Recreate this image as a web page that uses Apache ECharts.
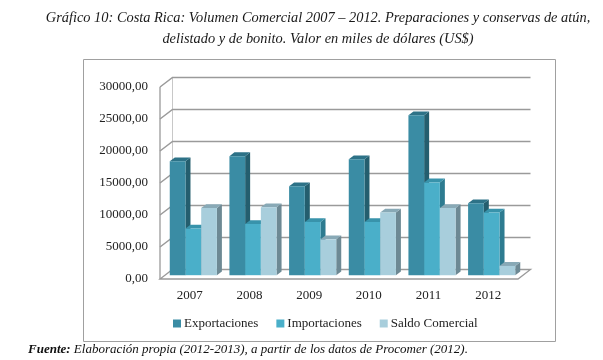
<!DOCTYPE html>
<html><head><meta charset="utf-8">
<script src="https://cdn.jsdelivr.net/npm/echarts@6/dist/echarts.min.js"></script>
<style>html,body{margin:0;padding:0;background:#fff}#c{width:603px;height:360px}</style>
</head><body><div id="c"></div>
<script>
var years = ['2007','2008','2009','2010','2011','2012'];
var exportaciones = [17800, 18600, 13900, 18100, 25000, 11250];
var importaciones = [7300, 8000, 8300, 8300, 14500, 9800];
var saldo = [10500, 10600, 5600, 9800, 10500, 1450];
var yTicks = [0, 5000, 10000, 15000, 20000, 25000, 30000];
var seriesNames = ['Exportaciones', 'Importaciones', 'Saldo Comercial'];

var DX = 12.5, DY = -9.5, D0 = 0.4, D1 = 0.8;
var palette = [
  {front:'#3A8CA4', side:'#245E6E', top:'#2D7287'},
  {front:'#4AAFC9', side:'#2D7B90', top:'#3893AB'},
  {front:'#A8CEDC', side:'#6D8994', top:'#88A9B6'}
];
var serif = '"Liberation Serif", "Times New Roman", serif';

function barRender(sIdx) {
  return function (params, api) {
    var ci = api.value(0), v = api.value(1);
    var p = api.coord([ci, v]), p0 = api.coord([ci, 0]);
    var band = api.size([1, 0])[0];
    var gw = band * 0.79, bw = gw / 3;
    var x0 = p[0] - gw / 2 + sIdx * bw + D0 * DX - 1.5;
    var x1 = x0 + bw;
    var yt = p[1] + D0 * DY, yb = p0[1] + D0 * DY;
    var ddx = (D1 - D0) * DX, ddy = (D1 - D0) * DY;
    var c = palette[sIdx];
    return {type: 'group', children: [
      {type: 'polygon', shape: {points: [[x1, yt], [x1 + ddx, yt + ddy], [x1 + ddx, yb + ddy], [x1, yb]]}, style: {fill: c.side}},
      {type: 'polygon', shape: {points: [[x0, yt], [x0 + ddx, yt + ddy], [x1 + ddx, yt + ddy], [x1, yt]]}, style: {fill: c.top}},
      {type: 'rect', shape: {x: x0, y: yt, width: bw, height: yb - yt}, style: {fill: c.front}}
    ]};
  };
}

function frameRender(params, api) {
  var cs = params.coordSys;
  var v = api.value(0);
  var y = api.coord([0, v])[1];
  var xl = cs.x, xr = cs.x + cs.width;
  var children = [];
  if (v === 0) {
    children.push({type: 'polygon', shape: {points: [[xl, y], [xr, y], [xr + DX, y + DY], [xl + DX, y + DY]]},
      style: {fill: '#fff', stroke: '#9a9a9a', lineWidth: 1.3}});
    children.push({type: 'line', shape: {x1: xl, y1: y, x2: xl, y2: cs.y}, style: {stroke: '#9a9a9a', lineWidth: 1.3}});
    children.push({type: 'line', shape: {x1: xl + DX, y1: y + DY, x2: xl + DX, y2: cs.y + DY}, style: {stroke: '#c8c8c8', lineWidth: 1}});
  } else {
    children.push({type: 'polyline', shape: {points: [[xl, y], [xl + DX, y + DY], [xr + DX, y + DY]]},
      style: {fill: null, stroke: '#9a9a9a', lineWidth: 1.5}});
  }
  return {type: 'group', children: children};
}

var chart = echarts.init(document.getElementById('c'));
var dataSets = [exportaciones, importaciones, saldo];
var series = [{
  type: 'custom', name: 'frame', renderItem: frameRender, silent: true, z: 1,
  data: yTicks.map(function (t) { return [t]; }), encode: {y: 0}
}];
dataSets.forEach(function (arr, i) {
  series.push({
    type: 'custom', name: seriesNames[i], renderItem: barRender(i), z: 2 + i,
    itemStyle: {color: palette[i].front},
    data: arr.map(function (v, k) { return [k, v]; }), encode: {x: 0, y: 1}
  });
});

chart.setOption({
  animation: false,
  title: {
    text: 'Gráfico 10: Costa Rica: Volumen Comercial 2007 – 2012. Preparaciones y conservas de atún,\ndelistado y de bonito. Valor en miles de dólares (US$)',
    left: 313, top: 3, textAlign: 'center',
    textStyle: {fontFamily: serif, fontStyle: 'italic', fontWeight: 'normal', fontSize: 14.4, lineHeight: 21, color: '#1a1a1a'}
  },
  legend: {
    data: seriesNames, top: 312, left: 168, itemWidth: 8, itemHeight: 8, itemGap: 18,
    icon: 'rect',
    textStyle: {fontFamily: serif, fontSize: 13, color: '#222', padding: [0, 0, 0, -2]}
  },
  grid: {left: 160, right: 85, top: 87, bottom: 81},
  xAxis: {
    type: 'category', data: years,
    axisLine: {show: false}, axisTick: {show: false},
    axisLabel: {fontFamily: serif, fontSize: 13, color: '#222', margin: 10}
  },
  yAxis: {
    type: 'value', min: 0, max: 30000, interval: 5000,
    axisLine: {show: false}, axisTick: {show: false}, splitLine: {show: false},
    axisLabel: {fontFamily: serif, fontSize: 13, color: '#222', margin: 12,
      formatter: function (v) { return v.toFixed(2).replace('.', ','); }}
  },
  graphic: [
    {type: 'rect', shape: {x: 83.5, y: 59.5, width: 472, height: 282}, style: {fill: null, stroke: '#a0a0a0', lineWidth: 1}, z: -1},
    {type: 'text', left: 28, top: 343, style: {
      text: '{b|Fuente:} Elaboración propia (2012-2013), a partir de los datos de Procomer (2012).',
      rich: {b: {fontWeight: 'bold', fontStyle: 'italic', fontFamily: serif, fontSize: 13, fill: '#111'}},
      fontFamily: serif, fontStyle: 'italic', fontSize: 13, fill: '#111'}}
  ],
  series: series
});
</script></body></html>
